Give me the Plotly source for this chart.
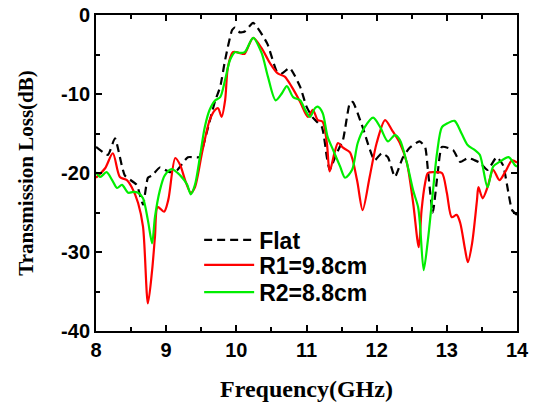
import plotly.graph_objects as go

flat_f = [8.0, 8.17, 8.27, 8.41, 8.58, 8.67, 8.74, 8.80, 8.91, 9.05, 9.15, 9.31, 9.47, 9.52, 9.70, 9.77, 9.84, 9.94, 9.98, 10.05, 10.12, 10.24, 10.44, 10.58, 10.65, 10.76, 10.91, 11.0, 11.09, 11.22, 11.29, 11.33, 11.43, 11.52, 11.62, 11.66, 11.80, 11.97, 12.07, 12.16, 12.26, 12.37, 12.47, 12.61, 12.69, 12.73, 12.80, 12.87, 12.93, 13.09, 13.19, 13.30, 13.40, 13.47, 13.58, 13.71, 13.80, 13.93, 14.0]
flat_db = [-16.7, -17.7, -15.6, -20.3, -21.5, -24.0, -20.6, -20.3, -19.3, -19.9, -19.7, -18.0, -18.0, -16.8, -10.8, -9.1, -5.7, -1.9, -1.6, -2.2, -2.1, -1.0, -3.6, -7.2, -7.4, -6.7, -9.1, -11.6, -13.0, -14.2, -18.0, -19.6, -17.5, -15.8, -11.1, -11.0, -14.2, -18.4, -17.5, -18.0, -20.5, -18.1, -16.8, -16.0, -16.7, -19.6, -25.0, -20.0, -16.7, -17.1, -18.6, -18.1, -18.4, -18.7, -19.6, -18.0, -19.0, -24.7, -25.3]

r1_f = [8.0, 8.13, 8.24, 8.34, 8.44, 8.51, 8.60, 8.67, 8.74, 8.80, 8.84, 8.88, 8.97, 9.03, 9.13, 9.20, 9.27, 9.35, 9.41, 9.51, 9.62, 9.70, 9.74, 9.79, 9.84, 9.88, 9.95, 10.0, 10.08, 10.12, 10.24, 10.36, 10.48, 10.59, 10.69, 10.79, 10.91, 11.02, 11.09, 11.16, 11.23, 11.29, 11.33, 11.40, 11.45, 11.52, 11.62, 11.72, 11.80, 11.90, 12.0, 12.12, 12.22, 12.33, 12.43, 12.52, 12.60, 12.64, 12.69, 12.73, 12.83, 12.93, 13.0, 13.07, 13.14, 13.19, 13.26, 13.30, 13.36, 13.43, 13.45, 13.51, 13.58, 13.66, 13.75, 13.83, 13.93, 14.0]
r1_db = [-20.6, -19.4, -17.5, -20.5, -20.9, -21.8, -23.8, -26.8, -36.5, -32.3, -28.1, -24.3, -24.9, -23.4, -18.1, -19.0, -20.9, -22.5, -21.8, -17.5, -13.3, -12.0, -11.8, -12.9, -10.8, -6.6, -4.7, -4.7, -4.9, -4.9, -2.9, -4.2, -6.1, -7.4, -7.8, -9.1, -11.0, -12.9, -12.0, -13.3, -13.5, -16.2, -19.8, -17.4, -16.2, -16.8, -17.4, -20.9, -24.7, -20.5, -16.2, -13.3, -14.6, -16.2, -18.7, -23.8, -29.4, -24.7, -21.3, -20.0, -19.9, -20.0, -22.5, -25.6, -25.3, -26.3, -29.7, -31.3, -28.9, -23.4, -21.8, -23.2, -21.8, -19.6, -20.9, -19.9, -18.4, -18.7]

r2_f = [8.0, 8.06, 8.15, 8.23, 8.30, 8.37, 8.46, 8.53, 8.60, 8.67, 8.74, 8.80, 8.84, 8.91, 8.98, 9.08, 9.20, 9.30, 9.35, 9.41, 9.48, 9.55, 9.62, 9.70, 9.77, 9.84, 9.91, 9.98, 10.05, 10.12, 10.24, 10.36, 10.45, 10.56, 10.65, 10.72, 10.81, 10.91, 10.98, 11.05, 11.12, 11.16, 11.23, 11.30, 11.38, 11.48, 11.55, 11.65, 11.73, 11.83, 11.95, 12.05, 12.16, 12.26, 12.33, 12.43, 12.52, 12.59, 12.62, 12.67, 12.73, 12.79, 12.86, 12.93, 13.01, 13.11, 13.21, 13.30, 13.40, 13.47, 13.58, 13.66, 13.75, 13.88, 13.97, 14.0]
r2_db = [-19.9, -20.5, -19.9, -20.9, -21.9, -21.5, -22.5, -22.4, -22.5, -23.2, -26.0, -28.9, -25.6, -22.2, -20.3, -19.5, -20.3, -21.5, -22.7, -21.5, -18.0, -14.2, -12.0, -10.8, -10.4, -8.2, -5.7, -4.7, -4.8, -4.7, -2.9, -4.8, -7.8, -10.8, -9.9, -9.0, -10.4, -10.8, -12.0, -12.9, -11.8, -11.6, -12.4, -15.4, -17.1, -19.2, -20.6, -19.6, -16.2, -14.2, -13.0, -14.2, -16.0, -15.2, -15.8, -18.7, -22.2, -24.3, -26.8, -32.3, -28.5, -23.4, -17.5, -14.2, -13.7, -13.4, -15.0, -16.5, -17.1, -17.7, -21.8, -19.2, -18.6, -18.0, -19.0, -19.2]

x_ticks = [8, 9, 10, 11, 12, 13, 14]
y_ticks = [0, -10, -20, -30, -40]
y_tick_labels = ["0", "-10", "-20", "-30", "-40"]

fig = go.Figure()
fig.add_trace(go.Scatter(x=flat_f, y=flat_db, name="Flat", mode="lines", legend="legend", showlegend=True,
                         line=dict(color="black", width=2.2, dash="8px,5px", shape="spline", smoothing=0.5)))
fig.add_trace(go.Scatter(x=r1_f, y=r1_db, name="R1=9.8cm", mode="lines", legend="legend2", showlegend=True,
                         line=dict(color="#ff0000", width=2.2, shape="spline", smoothing=0.8)))
fig.add_trace(go.Scatter(x=r2_f, y=r2_db, name="R2=8.8cm", mode="lines", legend="legend3", showlegend=True,
                         line=dict(color="#00ee00", width=2.2, shape="spline", smoothing=0.8)))

axis_common = dict(showline=True, linecolor="black", linewidth=2, mirror="ticks",
                   ticks="inside", ticklen=6, tickwidth=2, tickcolor="black",
                   showgrid=False, zeroline=False, automargin=False,
                   tickfont=dict(family="Liberation Sans, Arial", size=20, color="black", weight="bold"))

fig.update_xaxes(range=[8, 14], tickvals=x_ticks, **axis_common,
                 minor=dict(ticks="inside", ticklen=4, tickwidth=2, tickcolor="black", dtick=0.5),
                 title=dict(text="Frequency(GHz)", standoff=20,
                            font=dict(family="Liberation Serif, Times New Roman", size=24, color="black", weight="bold")))
fig.update_yaxes(range=[-40, 0], tickvals=y_ticks, ticktext=y_tick_labels, **axis_common,
                 minor=dict(ticks="inside", ticklen=4, tickwidth=2, tickcolor="black", dtick=5),
                 title=dict(text="Transmission Loss(dB)", standoff=22,
                            font=dict(family="Liberation Serif, Times New Roman", size=21, color="black", weight="bold")))

leg_common = dict(x=0.245, xanchor="left", yanchor="middle", bgcolor="rgba(0,0,0,0)",
                  font=dict(family="Liberation Sans, Arial", size=23, color="black", weight="bold"),
                  itemwidth=50, borderwidth=0, visible=True)
fig.update_layout(width=534, height=403, margin=dict(l=96, r=17, t=15, b=72),
                  plot_bgcolor="white", paper_bgcolor="white", showlegend=True,
                  legend=dict(y=0.288, **leg_common),
                  legend2=dict(y=0.209, **leg_common),
                  legend3=dict(y=0.123, **leg_common))

fig.write_html("out.html", config={"displayModeBar": False},
               post_script="document.body.style.margin='0';")
